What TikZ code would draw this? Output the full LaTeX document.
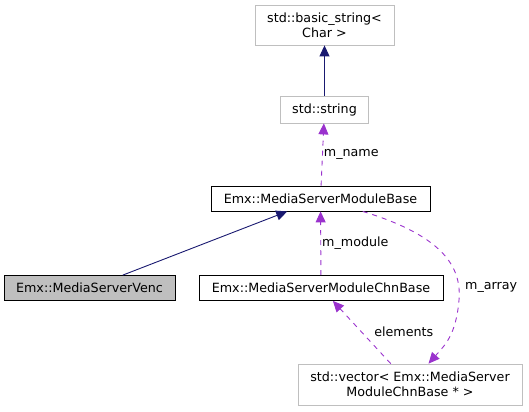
\documentclass[tikz,border=0pt]{standalone}
\usepackage{fontspec}
\setmainfont{DejaVu Sans}
\usetikzlibrary{arrows.meta}
\definecolor{inhcol}{HTML}{191970}
\definecolor{usecol}{HTML}{9A32CD}
\definecolor{extcol}{HTML}{BFBFBF}
\tikzset{
  cls/.style={draw=black,fill=white,line width=0.8bp,inner sep=0pt,align=center,
    font=\fontsize{12.7bp}{14.8bp}\selectfont},
  extcls/.style={cls,draw=extcol},
  curcls/.style={cls,fill=extcol},
  inh/.style={draw=inhcol,line width=0.9bp,-{Triangle[length=11bp,width=10bp]},color=inhcol},
  use/.style={draw=usecol,line width=0.9bp,dash pattern=on 5bp off 5bp,
    -{Triangle[length=11bp,width=10bp]},color=usecol},
  lbl/.style={font=\fontsize{12.7bp}{14.8bp}\selectfont,inner sep=1bp,text=black}
}
\begin{document}
\begin{tikzpicture}[x=1bp,y=-1bp]
  \useasboundingbox (0,0) rectangle (529,411);
  \draw
    (324.5,25) node[extcls,minimum width=139bp,minimum height=40bp] (basicstr){std::basic\_string<\\Char >}
    (324.5,109.5) node[extcls,minimum width=88bp,minimum height=27bp] (str){std::string}
    (320.5,198.5) node[cls,minimum width=219bp,minimum height=25bp] (modbase){Emx::MediaServerModuleBase}
    (89.5,288) node[curcls,minimum width=171bp,minimum height=25bp] (venc){Emx::MediaServerVenc}
    (321,288) node[cls,minimum width=244bp,minimum height=25bp] (chnbase){Emx::MediaServerModuleChnBase}
    (410,384.5) node[extcls,minimum width=224bp,minimum height=41bp] (vec){std::vector< Emx::MediaServer\\ModuleChnBase * >};
  \begin{scope}
    \draw[inh] (str) to (basicstr);
    \draw[inh] (venc) to (modbase);
    \draw[use] (modbase) to node[lbl,right,pos=0.5]{m\_name} (str);
    \draw[use] (chnbase) to node[lbl,right,pos=0.5]{m\_module} (modbase);
    \draw[use] (modbase) .. controls (440,235) and (462,265) .. (459,300)
      .. controls (456,335) and (445,345) .. (vec);
    \node[lbl,anchor=west] (marray) at (464,287) {m\_array};
    \draw[use] (vec) to node[lbl,right,pos=0.5,xshift=11bp]{elements} (chnbase);
  \end{scope}
\end{tikzpicture}
\end{document}
